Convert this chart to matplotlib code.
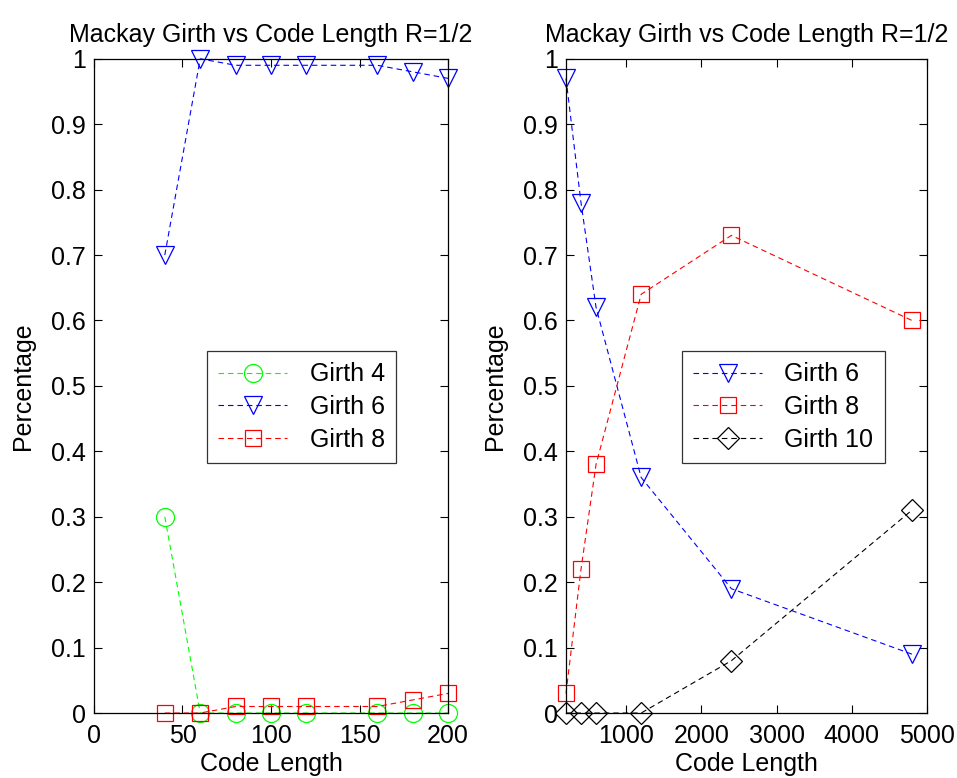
import numpy as np
import matplotlib
matplotlib.use("Agg")
import matplotlib.pyplot as plt

plt.rcParams['font.family'] = ['Liberation Sans', 'DejaVu Sans']

# short codes
len_short = [40, 60, 80, 100, 120, 160, 180, 200]
short_g4 = [0.30, 0, 0, 0, 0, 0, 0, 0]
short_g6 = [0.70, 1.00, 0.99, 0.99, 0.99, 0.99, 0.98, 0.97]
short_g8 = [0, 0, 0.01, 0.01, 0.01, 0.01, 0.02, 0.03]

# long codes
len_long = [200, 400, 600, 1200, 2400, 4800]
long_g6 = [0.97, 0.78, 0.62, 0.36, 0.19, 0.09]
long_g8 = [0.03, 0.22, 0.38, 0.64, 0.73, 0.60]
long_g10 = [0, 0, 0, 0, 0.08, 0.31]

TITLE = 'Mackay Girth vs Code Length R=1/2'
FS = 18

fig = plt.figure(figsize=(9.57, 7.78), dpi=100)
ax1 = fig.add_axes([0.0982, 0.0835, 0.370, 0.841])
ax2 = fig.add_axes([0.5914, 0.0835, 0.3772, 0.841])

style = dict(linestyle=(0, (5, 3.5)), linewidth=0.8, markerfacecolor='none',
             markeredgewidth=0.9, clip_on=False)

ax1.plot(len_short, short_g4, marker='o', markersize=13, color=(0, 1, 0),
         label='Girth 4', **style)
ax1.plot(len_short, short_g6, marker='v', markersize=13, color=(0, 0, 1),
         label='Girth 6', **style)
ax1.plot(len_short, short_g8, marker='s', markersize=11.5, color=(1, 0, 0),
         label='Girth 8', **style)
ax1.set_xlim(0, 200)
ax1.set_xticks([0, 50, 100, 150, 200])

ax2.plot(len_long, long_g6, marker='v', markersize=13, color=(0, 0, 1),
         label='Girth 6', **style)
ax2.plot(len_long, long_g8, marker='s', markersize=11.5, color=(1, 0, 0),
         label='Girth 8', **style)
ax2.plot(len_long, long_g10, marker='D', markersize=11, color='black',
         label='Girth 10', **style)
ax2.set_xlim(200, 5000)
ax2.set_xticks([1000, 2000, 3000, 4000, 5000])

yt = np.round(np.arange(0, 1.01, 0.1), 1)
ylab = ['0'] + ['%.1f' % v for v in yt[1:-1]] + ['1']

for ax, lx in ((ax1, 207), (ax2, 682)):
    ax.set_ylim(0, 1)
    ax.set_yticks(yt)
    ax.set_yticklabels(ylab)
    ax.tick_params(direction='in', top=True, right=True, labelsize=FS,
                   length=6, width=0.8, pad=6)
    ax.tick_params(axis='x', pad=8)
    for s in ax.spines.values():
        s.set_linewidth(0.9)
    ax.set_title(TITLE, fontsize=FS, pad=12)
    ax.set_xlabel('Code Length', fontsize=FS, labelpad=3)
    ax.set_ylabel('Percentage', fontsize=FS, labelpad=11)
    leg = ax.legend(loc='upper left', bbox_to_anchor=(lx / 957, 1 - 351 / 778),
                    bbox_transform=fig.transFigure,
                    fontsize=FS, frameon=True, fancybox=False, handlelength=2.75,
                    borderpad=0.45, labelspacing=0.35, handletextpad=0.9,
                    borderaxespad=0)
    leg.get_frame().set_edgecolor('black')
    leg.get_frame().set_linewidth(0.9)

fig.savefig('out.png', dpi=100)
